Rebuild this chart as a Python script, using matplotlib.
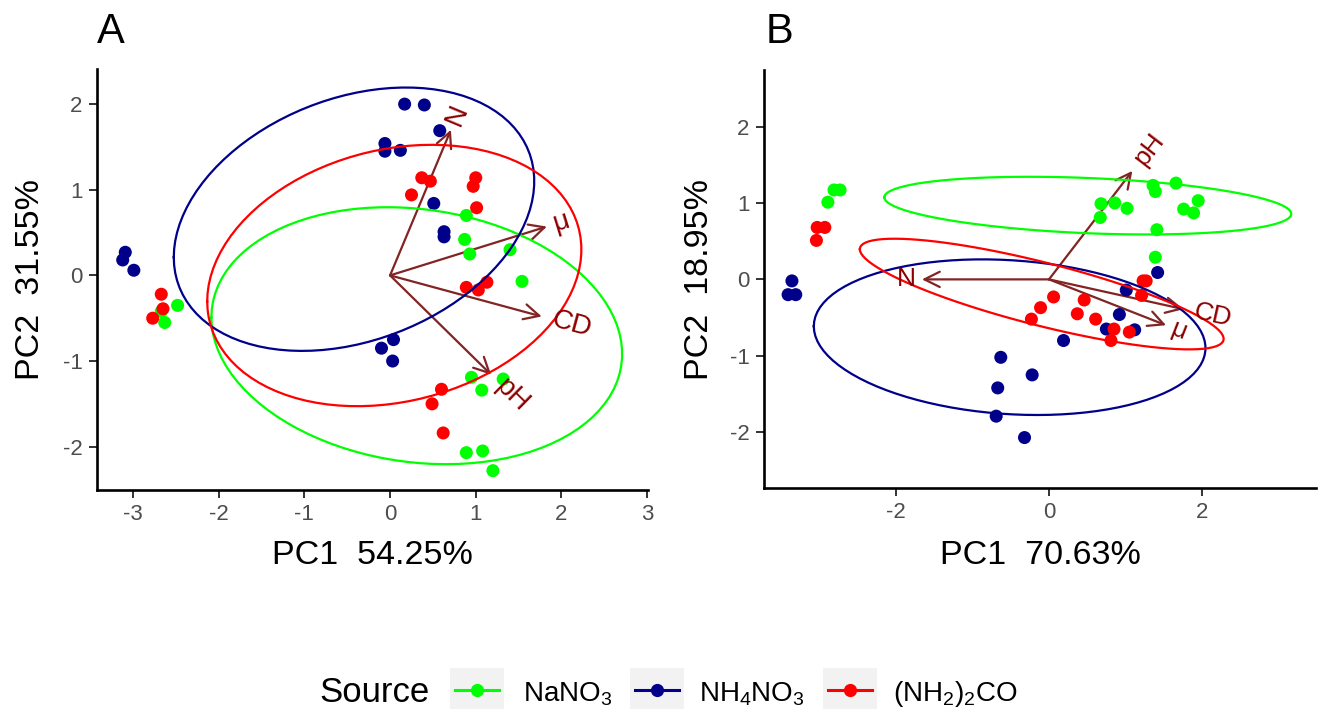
import numpy as np
import matplotlib.pyplot as plt
from matplotlib.patches import Rectangle, FancyArrowPatch
from matplotlib.lines import Line2D

plt.rcParams['font.family'] = ['Liberation Sans', 'DejaVu Sans']
plt.rcParams['mathtext.fontset'] = 'custom'
plt.rcParams['mathtext.rm'] = 'Liberation Sans'
plt.rcParams['mathtext.it'] = 'Liberation Sans:italic'

W, H = 1318, 709

group_labels = ['NaNO$_3$', 'NH$_4$NO$_3$', '(NH$_2$)$_2$CO']
group_colors = ['#00FF00', '#00008B', '#FF0000']
var_names = ['N', 'μ', 'CD', 'pH']

# --- panel A scores (PC1, PC2) ---
a_nano3 = [(-2.48, -0.35), (-2.63, -0.55), (-2.67, -0.42), (0.89, 0.70), (0.87, 0.42),
           (0.93, 0.25), (1.40, 0.30), (1.54, -0.07), (0.95, -1.19), (1.07, -1.34),
           (1.32, -1.21), (0.89, -2.07), (1.08, -2.05), (1.20, -2.28)]
a_nh4no3 = [(-3.09, 0.27), (-3.12, 0.18), (-2.99, 0.06), (0.17, 2.00), (0.40, 1.99),
            (0.58, 1.69), (-0.06, 1.54), (-0.06, 1.45), (0.12, 1.46), (0.51, 0.84),
            (0.63, 0.51), (0.63, 0.45), (0.04, -0.75), (-0.10, -0.85), (0.03, -1.00)]
a_urea = [(-2.67, -0.22), (-2.65, -0.39), (-2.77, -0.50), (0.37, 1.14), (0.47, 1.10),
          (0.25, 0.94), (1.00, 1.14), (0.97, 1.04), (1.01, 0.79), (0.89, -0.14),
          (1.03, -0.17), (1.13, -0.08), (0.60, -1.33), (0.49, -1.50), (0.62, -1.84)]
a_load_x = [0.71, 1.83, 1.77, 1.18]
a_load_y = [1.70, 0.57, -0.48, -1.16]

# --- panel B scores (PC1, PC2) ---
b_nano3 = [(-2.81, 1.17), (-2.73, 1.17), (-2.89, 1.01), (0.68, 0.99), (0.86, 1.00),
           (1.02, 0.93), (0.67, 0.81), (1.36, 1.23), (1.39, 1.15), (1.66, 1.26),
           (1.76, 0.92), (1.89, 0.87), (1.95, 1.03), (1.41, 0.65), (1.39, 0.29)]
b_nh4no3 = [(-3.36, -0.02), (-3.41, -0.20), (-3.31, -0.20), (-0.63, -1.02), (-0.22, -1.25),
            (-0.67, -1.42), (-0.69, -1.79), (-0.32, -2.07), (0.19, -0.80), (1.42, 0.09),
            (1.01, -0.14), (0.92, -0.46), (0.75, -0.65), (1.12, -0.66)]
b_urea = [(-3.03, 0.68), (-2.93, 0.68), (-3.04, 0.51), (0.06, -0.23), (-0.11, -0.37),
          (-0.23, -0.52), (1.23, -0.02), (1.27, -0.02), (1.21, -0.21), (0.46, -0.27),
          (0.37, -0.45), (0.61, -0.52), (0.85, -0.65), (1.05, -0.69), (0.81, -0.80)]
b_load_x = [-1.66, 1.53, 1.76, 1.09]
b_load_y = [0.00, -0.60, -0.39, 1.42]


def norm_ellipse(pts, prob=0.68):
    # same construction as ggbiplot: circle %*% chol(var) * sqrt(qchisq)
    xy = np.asarray(pts)
    mu = xy.mean(axis=0)
    sigma = np.cov(xy.T)
    ed = np.sqrt(-2 * np.log(1 - prob))
    theta = np.linspace(-np.pi, np.pi, 100)
    circle = np.column_stack([np.cos(theta), np.sin(theta)])
    L = np.linalg.cholesky(sigma)
    return circle @ L.T * ed + mu


def biplot(ax, groups, lx, ly, xlim, ylim, xlab, ylab, xticks, yticks, lab_fs):
    # arrows
    for x, y in zip(lx, ly):
        ax.add_patch(FancyArrowPatch((0, 0), (x, y), arrowstyle='->,head_length=11,head_width=5.5',
                                     mutation_scale=1, color='#832424', lw=1.6,
                                     shrinkA=0, shrinkB=0, zorder=1))
    for pts, c in zip(groups, group_colors):
        xy = np.asarray(pts)
        ax.scatter(xy[:, 0], xy[:, 1], s=88, color=c, edgecolors='none', zorder=2)
    for pts, c in zip(groups, group_colors):
        ell = norm_ellipse(pts)
        ax.plot(ell[:, 0], ell[:, 1], color=c, lw=1.6, zorder=3)
    for name, x, y in zip(var_names, lx, ly):
        ang = np.degrees(np.arctan(y / x))
        off = 0.25 * 0.72 * lab_fs * len(name) + 1
        sgn = 1 if x > 0 else -1
        dx = sgn * off * np.cos(np.radians(ang))
        dy = sgn * off * np.sin(np.radians(ang))
        ax.annotate(name, xy=(x, y), xytext=(dx, dy), textcoords='offset points',
                    rotation=ang, rotation_mode='anchor', ha='left' if x > 0 else 'right',
                    va='center', color='#8B0000', fontsize=lab_fs, zorder=4)
    ax.set_xlim(*xlim)
    ax.set_ylim(*ylim)
    ax.set_xticks(xticks)
    ax.set_yticks(yticks)
    ax.set_xticklabels([str(t) for t in xticks])
    ax.set_yticklabels([str(t) for t in yticks])
    for s in ['top', 'right']:
        ax.spines[s].set_visible(False)
    for s in ['left', 'bottom']:
        ax.spines[s].set_linewidth(1.9)
        ax.spines[s].set_color('black')
    ax.tick_params(length=5.8, width=1.4, color='#333333', labelsize=16,
                   labelcolor='#4D4D4D', pad=4.5)
    ax.set_xlabel(xlab, fontsize=24.5, va='center')
    ax.set_ylabel(ylab, fontsize=24.5, va='center')


fig = plt.figure(figsize=(W / 100, H / 100), dpi=100)


def add_axes_px(left, right, top, bottom):
    return fig.add_axes([left / W, 1 - bottom / H, (right - left) / W, (bottom - top) / H])


axA = add_axes_px(97, 648, 69, 490)
biplot(axA, [a_nano3, a_nh4no3, a_urea], a_load_x, a_load_y,
       (-3.42, 3.01), (-2.506, 2.41), 'PC1  54.25%', 'PC2  31.55%',
       [-3, -2, -1, 0, 1, 2, 3], [-2, -1, 0, 1, 2], 20)
axA.xaxis.set_label_coords(0.5, -(556 - 490) / 421)
axA.yaxis.set_label_coords((31 - 97) / 551, 0.5)

axB = add_axes_px(764, 1316, 70, 488)
biplot(axB, [b_nano3, b_nh4no3, b_urea], b_load_x, b_load_y,
       (-3.725, 3.49), (-2.73, 2.74), 'PC1  70.63%', 'PC2  18.95%',
       [-2, 0, 2], [-2, -1, 0, 1, 2], 19)
axB.xaxis.set_label_coords(0.5, -(556 - 488) / 418)
axB.yaxis.set_label_coords((699 - 764) / 552, 0.5)

fig.text(97 / W, 1 - 43 / H, 'A', fontsize=30, va='baseline', ha='left')
fig.text(766 / W, 1 - 43 / H, 'B', fontsize=30, va='baseline', ha='left')

# legend at the bottom
fig.text(319 / W, 1 - 702 / H, 'Source', fontsize=25, va='baseline', ha='left')
key_left = [450, 630, 823]
text_left = [523, 699, 893]
for kl, tl, lab, c in zip(key_left, text_left, group_labels, group_colors):
    fig.patches.append(Rectangle((kl / W, 1 - 709 / H), 54 / W, 41 / H,
                                 transform=fig.transFigure, facecolor='#F2F2F2',
                                 edgecolor='none'))
    fig.lines.append(Line2D([(kl + 5) / W, (kl + 49) / W], [1 - 690 / H] * 2,
                            transform=fig.transFigure, color=c, lw=2.2))
    fig.lines.append(Line2D([(kl + 27) / W], [1 - 690 / H], transform=fig.transFigure,
                            marker='o', markersize=9.5, color=c, markeredgewidth=0))
    fig.text(tl / W, 1 - 701 / H, lab, fontsize=20, va='baseline', ha='left')

fig.savefig('out.png', dpi=100)
